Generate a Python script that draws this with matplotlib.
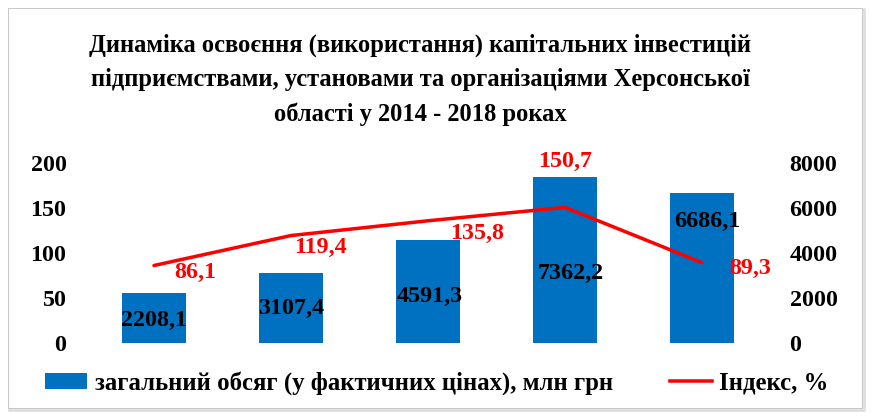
import matplotlib
matplotlib.use("Agg")
import matplotlib.pyplot as plt
from matplotlib.patches import Rectangle, Patch
from matplotlib.lines import Line2D

# Дані
years = ["2014", "2015", "2016", "2017", "2018"]
volume = [2208.1, 3107.4, 4591.3, 7362.2, 6686.1]   # млн грн
index = [86.1, 119.4, 135.8, 150.7, 89.3]           # %
volume_labels = ["2208,1", "3107,4", "4591,3", "7362,2", "6686,1"]
index_labels = ["86,1", "119,4", "135,8", "150,7", "89,3"]

title = ("Динаміка освоєння (використання) капітальних інвестицій\n"
         "підприємствами, установами та організаціями Херсонської\n"
         "області у 2014 - 2018 роках")

W, H = 875, 419
DPI = 72
plt.rcParams["font.family"] = ["Liberation Serif", "DejaVu Serif"]
plt.rcParams["font.weight"] = "bold"
FS = 24

fig = plt.figure(figsize=(W / DPI, H / DPI), dpi=DPI)

# рамка з тінню
fig.patches.append(Rectangle((9 / W, 1 - 410 / H), 855 / W, 401 / H, transform=fig.transFigure,
                             facecolor="none", edgecolor="#dcdcdc", lw=2.5, zorder=-2))
fig.patches.append(Rectangle((8 / W, 1 - 408 / H), 854 / W, 400 / H, transform=fig.transFigure,
                             facecolor="white", edgecolor="#c8c8c8", lw=1, zorder=-1))

ax_l = fig.add_axes([85.5 / W, 76 / H, 685 / W, 180 / H])
ax_r = ax_l.twinx()
ax_l.set_zorder(ax_r.get_zorder() + 1)
ax_l.patch.set_visible(False)
ax_r.patch.set_visible(False)

x = list(range(len(years)))
bars = ax_r.bar(x, volume, width=0.47, color="#0070C0")
ax_r.set_ylim(0, 8000)
ax_r.set_yticks([0, 2000, 4000, 6000, 8000])

ax_l.plot(x, index, color="#FF0000", lw=3.5, solid_capstyle="round")
ax_l.set_ylim(0, 200)
ax_l.set_yticks([0, 50, 100, 150, 200])
ax_l.set_xlim(-0.5, len(years) - 0.5)
ax_l.set_xticks([])

for a in (ax_l, ax_r):
    for s in a.spines.values():
        s.set_visible(False)
    a.tick_params(axis="y", length=0, labelsize=FS, pad=19)

# підписи стовпців (зміщення у пікселях від вершини)
bar_off = [(0, -27), (0, -35), (2, -57), (6, -96), (5, -29)]
for i, (v, lab) in enumerate(zip(volume, volume_labels)):
    ax_r.annotate(lab, (i, v), xytext=bar_off[i], textcoords="offset points",
                  ha="center", va="center", fontsize=FS, color="black")

# підписи індексу
line_off = [(41, -7), (29, -12), (49, -13), (0, 46), (48, -6)]
for i, (v, lab) in enumerate(zip(index, index_labels)):
    ax_l.annotate(lab, (i, v), xytext=line_off[i], textcoords="offset points",
                  ha="center", va="center", fontsize=FS, color="#FF0000")

fig.text(420 / W, 1 - 80 / H, title, ha="center", va="center", fontsize=24.5,
         linespacing=1.62)

handles = [Patch(facecolor="#0070C0", edgecolor="none"),
           Line2D([], [], color="#FF0000", lw=3.5)]
fig.legend(handles, ["загальний обсяг (у фактичних цінах), млн грн", "Індекс, %"],
           loc="center left", bbox_to_anchor=(45 / W, 1 - 383 / H), ncol=2,
           frameon=False, fontsize=24.8, borderpad=0, borderaxespad=0,
           handlelength=1.7, handleheight=0.6, handletextpad=0.3,
           columnspacing=2.3)

fig.savefig("out.png", dpi=DPI)
